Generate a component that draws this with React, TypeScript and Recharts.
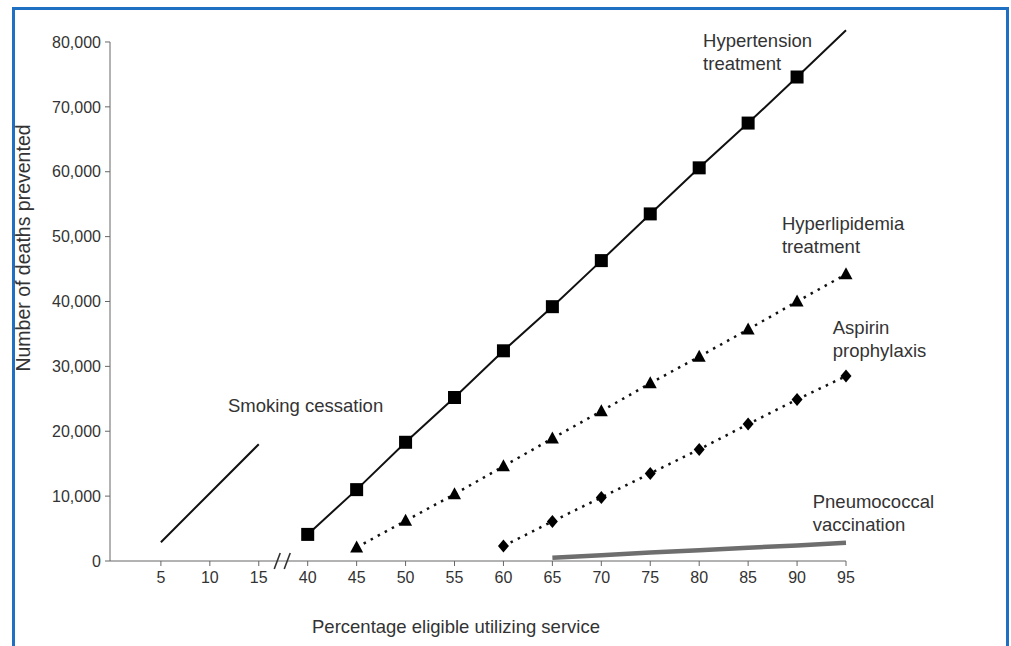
import { ComposedChart, Line, XAxis, YAxis, ReferenceDot, ReferenceLine } from 'recharts'

const categories = ['5', '10', '15', '40', '45', '50', '55', '60', '65', '70', '75', '80', '85', '90', '95']
const smoking = [2900, 10450, 18000, null, null, null, null, null, null, null, null, null, null, null, null]
const hypertension = [null, null, null, 4100, 11000, 18300, 25200, 32400, 39200, 46300, 53500, 60600, 67500, 74600, 81800]
const hyperlipidemia = [null, null, null, null, 2100, 6200, 10300, 14600, 18900, 23100, 27400, 31500, 35700, 40000, 44200]
const aspirin = [null, null, null, null, null, null, null, 2300, 6100, 9800, 13500, 17200, 21100, 24900, 28500]
const pneumococcal = [null, null, null, null, null, null, null, null, 500, 900, 1300, 1650, 2050, 2400, 2800]
const yTicks = [0, 10000, 20000, 30000, 40000, 50000, 60000, 70000, 80000]

const data = categories.map((cat, i) => ({
  idx: i,
  cat,
  smoking: smoking[i],
  hypertension: hypertension[i],
  hyperlipidemia: hyperlipidemia[i],
  aspirin: aspirin[i],
  pneumococcal: pneumococcal[i],
}))

const FONT = '"Liberation Sans", Arial, sans-serif'
const TEXT = '#333'
const AXIS = '#666'
const X_MIN = -1.04

// two-line annotation drawn at a data anchor
const note = (lines: string[]) => (p: any) => (
  <text x={p.cx} y={p.cy} fontFamily={FONT} fontSize={18.5} fill={TEXT}>
    {lines.map((l, i) => (
      <tspan key={i} x={p.cx} dy={i === 0 ? 0 : 23}>{l}</tspan>
    ))}
  </text>
)

const squareDot = (p: any) => {
  if (p.cx == null || p.cy == null || p.payload.idx === 14) return <g key={p.index} />
  return <rect key={p.index} x={p.cx - 6.5} y={p.cy - 6.5} width={13} height={13} fill="#000" />
}
const triangleDot = (p: any) => {
  if (p.cx == null || p.cy == null) return <g key={p.index} />
  const { cx, cy } = p
  return <polygon key={p.index} points={`${cx},${cy - 7} ${cx - 6.5},${cy + 5} ${cx + 6.5},${cy + 5}`} fill="#000" />
}
const diamondDot = (p: any) => {
  if (p.cx == null || p.cy == null) return <g key={p.index} />
  const { cx, cy } = p
  return <polygon key={p.index} points={`${cx},${cy - 6.5} ${cx + 5.5},${cy} ${cx},${cy + 6.5} ${cx - 5.5},${cy}`} fill="#000" />
}

const axisBreak = (p: any) => (
  <g stroke="#333" strokeWidth={1.6}>
    <line x1={p.cx - 9} y1={p.cy + 8} x2={p.cx - 3} y2={p.cy - 8} />
    <line x1={p.cx + 1} y1={p.cy + 8} x2={p.cx + 7} y2={p.cy - 8} />
  </g>
)

export default function App() {
  return (
    <div style={{ position: 'absolute', left: 0, top: 0, width: 1011, height: 646, overflow: 'hidden', background: '#fff' }}>
      <div style={{ position: 'absolute', left: 12, top: 7, width: 991, height: 700, border: '3px solid #1f70c2' }} />
      <div style={{ position: 'absolute', left: 0, top: 0 }}>
        <ComposedChart width={1011} height={646} data={data} margin={{ top: 29, right: 165, bottom: 55, left: 50 }}>
          <XAxis
            type="number"
            dataKey="idx"
            domain={[X_MIN, 14]}
            ticks={categories.map((_, i) => i)}
            tickFormatter={(v) => categories[v] ?? ''}
            stroke={AXIS}
            tick={{ fill: TEXT, fontSize: 16, fontFamily: FONT }}
            tickSize={5}
            tickMargin={6}
            height={30}
            label={{
              content: () => (
                <text x={456} y={633} textAnchor="middle" fontFamily={FONT} fontSize={18.5} fill={TEXT}>
                  Percentage eligible utilizing service
                </text>
              ),
            }}
          />
          <YAxis
            domain={[0, 82000]}
            ticks={yTicks}
            tickFormatter={(v) => v.toLocaleString('en-US')}
            axisLine={false}
            stroke={AXIS}
            tick={{ fill: TEXT, fontSize: 16, fontFamily: FONT }}
            tickSize={5}
            tickMargin={4}
            width={60}
            label={{
              content: () => (
                <text transform="translate(30,248) rotate(-90)" textAnchor="middle" fontFamily={FONT} fontSize={19.5} fill={TEXT}>
                  Number of deaths prevented
                </text>
              ),
            }}
          />
          <ReferenceLine segment={[{ x: X_MIN, y: 0 }, { x: X_MIN, y: 80000 }]} stroke={AXIS} strokeWidth={1} />
          <ReferenceDot x={2.5} y={0} r={0} shape={axisBreak} />

          <Line dataKey="pneumococcal" stroke="#6e6e6e" strokeWidth={4.5} dot={false} isAnimationActive={false} />
          <Line dataKey="smoking" stroke="#111" strokeWidth={2} dot={false} isAnimationActive={false} />
          <Line dataKey="hypertension" stroke="#111" strokeWidth={2} dot={squareDot} activeDot={false} isAnimationActive={false} />
          <Line dataKey="hyperlipidemia" stroke="#111" strokeWidth={2.5} strokeDasharray="2.5 5.5" dot={triangleDot} activeDot={false} isAnimationActive={false} />
          <Line dataKey="aspirin" stroke="#111" strokeWidth={2.5} strokeDasharray="2.5 5.5" dot={diamondDot} activeDot={false} isAnimationActive={false} />

          <ReferenceDot x={11.08} y={79200} r={0} shape={note(['Hypertension', 'treatment'])} />
          <ReferenceDot x={12.69} y={51000} r={0} shape={note(['Hyperlipidemia', 'treatment'])} />
          <ReferenceDot x={13.73} y={35000} r={0} shape={note(['Aspirin', 'prophylaxis'])} />
          <ReferenceDot x={13.32} y={8200} r={0} shape={note(['Pneumococcal', 'vaccination'])} />
          <ReferenceDot x={1.37} y={23000} r={0} shape={note(['Smoking cessation'])} />
        </ComposedChart>
      </div>
    </div>
  )
}
